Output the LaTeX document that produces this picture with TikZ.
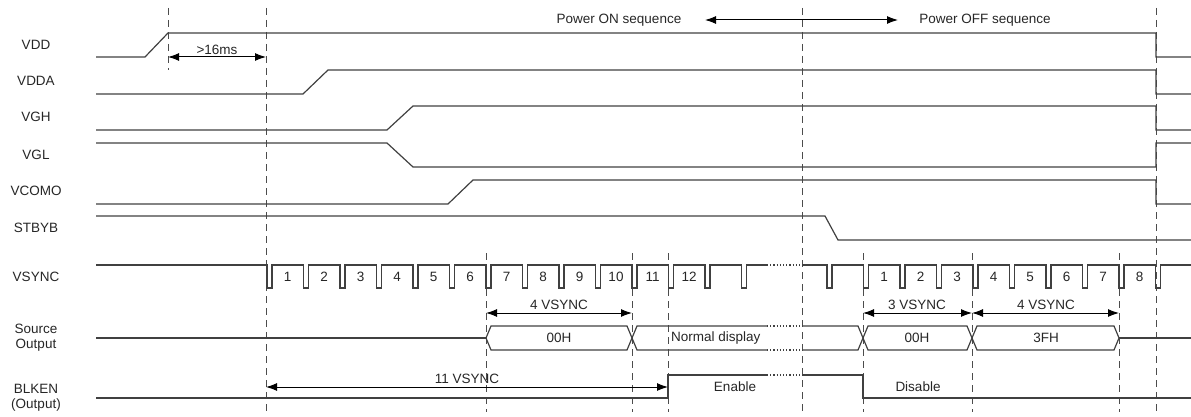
\documentclass[tikz,border=0pt]{standalone}
\usepackage{fontspec}
\setmainfont{Liberation Sans}
\usetikzlibrary{arrows.meta}
\begin{document}
\begin{tikzpicture}[x=1pt, y=-1pt, >={Latex[length=11pt,width=8pt]},
  sig/.style={draw=black!75, line width=1.2pt},
  guide/.style={draw=black!70, line width=1pt, dash pattern=on 7pt off 5pt},
  dim/.style={draw=black, line width=1pt, <->},
  lbl/.style={font=\fontsize{13.5}{15}\selectfont, text=black!85, inner sep=0pt, align=center}]
\useasboundingbox (0,0) rectangle (1191,417);
\foreach \gx/\ga/\gb in {168/8/70, 266/8/412, 486/253/412, 632/253/412, 668/253/412, 802/8/412, 863/253/412, 972/253/412, 1119/253/412, 1156/8/412}
  \draw[guide] (\gx,\ga) -- (\gx,\gb);
\node[lbl] (vdd) at (36,45) {VDD};
\node[lbl] (vdda) at (36,81) {VDDA};
\node[lbl] (vgh) at (36,117) {VGH};
\node[lbl] (vgl) at (36,155) {VGL};
\node[lbl] (vcomo) at (36,191) {VCOMO};
\node[lbl] (stbyb) at (36,228) {STBYB};
\node[lbl] (vsync) at (36,277) {VSYNC};
\node[lbl] (src) at (36,338) {Source\\Output};
\node[lbl] (blken) at (36,398) {BLKEN\\(Output)};
\draw[sig] (96,57) -- (145,57) -- (168,33) -- (1156,33) -- (1156,57) -- (1191,57);
\draw[sig] (96,94) -- (303,94) -- (328,70) -- (1156,70) -- (1156,94) -- (1191,94);
\draw[sig] (96,130) -- (387,130) -- (413,106) -- (1156,106) -- (1156,130) -- (1191,130);
\draw[sig] (96,143) -- (387,143) -- (413,167) -- (1156,167) -- (1156,143) -- (1191,143);
\draw[sig] (96,204) -- (448,204) -- (473,180) -- (1156,180) -- (1156,204) -- (1191,204);
\draw[sig] (96,216) -- (825,216) -- (838,240) -- (1191,240);
\draw[sig] (96,265) foreach \k in {0,...,13} { -- ({267+36.5*\k},265) -- ({267+36.5*\k},288) -- ++(5,0) -- ++(0,-23) } -- (767,265);
\draw[sig, dotted] (767,265) -- (802,265);
\draw[sig] (802,265) foreach \k in {0,...,9} { -- ({827+36.5*\k},265) -- ({827+36.5*\k},288) -- ++(5,0) -- ++(0,-23) } -- (1191,265);
\foreach \n in {1,...,12}
  \node[lbl] (on\n) at ({267+36.5*(\n-1)+20.5},277) {\n};
\foreach \n in {1,...,8}
  \node[lbl] (off\n) at ({863.5+36.5*(\n-1)+20.5},277) {\n};
\draw[sig] (96,338) -- (486,338);
\draw[sig] (486,338) -- (491,326) -- (627,326) -- (632,338) -- (627,350) -- (491,350) -- cycle;
\draw[sig] (767,326) -- (637,326) -- (632,338) -- (637,350) -- (767,350);
\draw[sig, dotted] (767,326) -- (802,326) (767,350) -- (802,350);
\draw[sig] (802,326) -- (858,326) -- (863,338) -- (858,350) -- (802,350);
\draw[sig] (863,338) -- (868,326) -- (967,326) -- (972,338) -- (967,350) -- (868,350) -- cycle;
\draw[sig] (972,338) -- (977,326) -- (1114,326) -- (1119,338) -- (1114,350) -- (977,350) -- cycle;
\draw[sig] (1119,338) -- (1191,338);
\node[lbl] (d00a) at (559,338) {00H};
\node[lbl, anchor=west] (norm) at (671,338) {Normal display};
\node[lbl] (d00b) at (917,338) {00H};
\node[lbl] (d3f) at (1046,338) {3FH};
\draw[sig] (96,398) -- (668,398) -- (668,375) -- (767,375);
\draw[sig, dotted] (767,375) -- (802,375);
\draw[sig] (802,375) -- (863,375) -- (863,398) -- (1191,398);
\node[lbl] (en) at (735,387) {Enable};
\node[lbl] (dis) at (918,387) {Disable};
\coordinate (a1) at (168,57); \coordinate (a2) at (266,57);
\coordinate (p1) at (705,20); \coordinate (p2) at (898,20);
\coordinate (b1) at (486,313); \coordinate (b2) at (632,313);
\coordinate (c1) at (863,313); \coordinate (c2) at (972,313); \coordinate (c3) at (1119,313);
\coordinate (e1) at (266,387); \coordinate (e2) at (668,387);
\draw [dim] (a1) -- (a2);
\draw [dim] (p1) -- (p2);
\draw [dim] (b1) -- (b2);
\draw [dim] (c1) -- (c2);
\draw [dim] (c2) -- (c3);
\draw [dim] (e1) -- (e2);
\node[lbl] (t16) at (217,50) {>16ms};
\node[lbl] (pon) at (619,20) {Power ON sequence};
\node[lbl] (poff) at (985,20) {Power OFF sequence};
\node[lbl] (v4a) at (559,305) {4 VSYNC};
\node[lbl] (v3) at (917,305) {3 VSYNC};
\node[lbl] (v4b) at (1046,305) {4 VSYNC};
\node[lbl] (v11) at (467,379) {11 VSYNC};
\end{tikzpicture}
\end{document}
